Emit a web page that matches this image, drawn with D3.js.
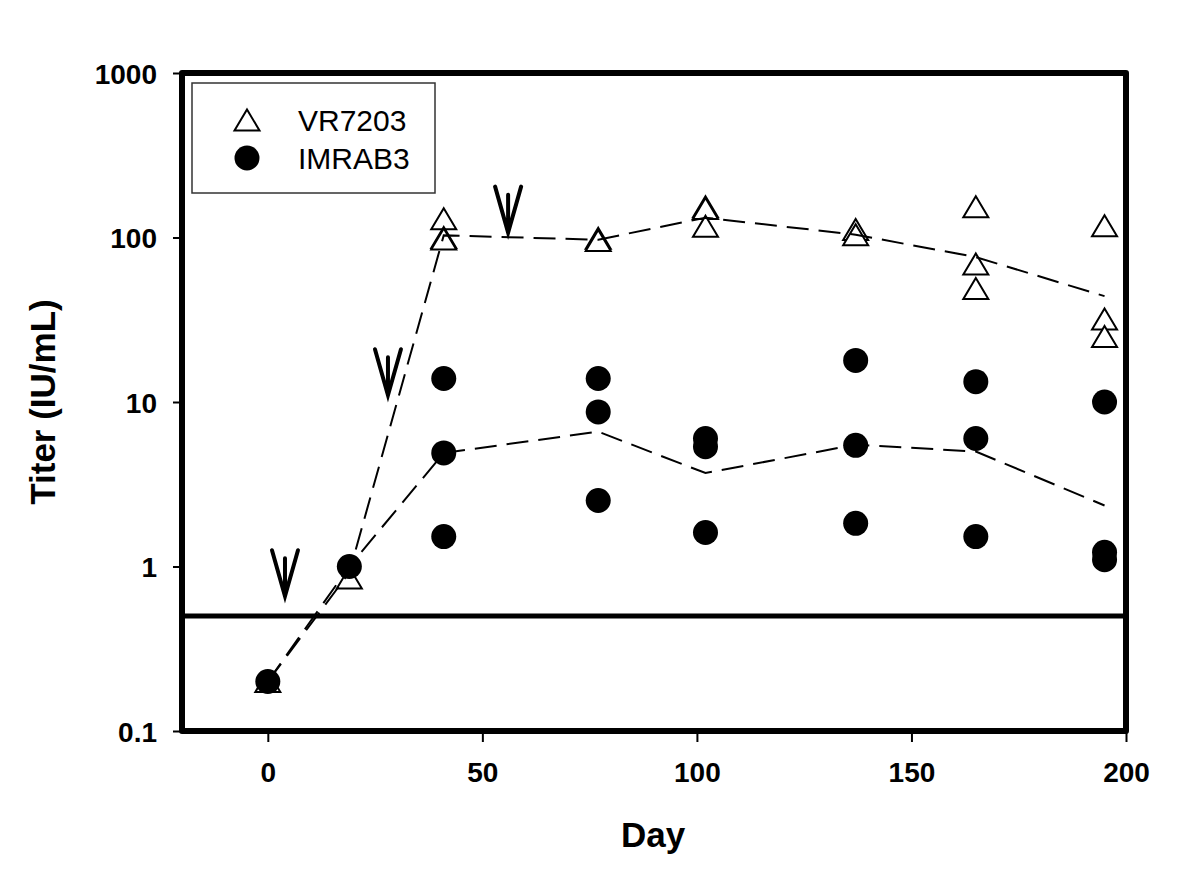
<!DOCTYPE html>
<html>
<head>
<meta charset="utf-8">
<script src="https://cdn.jsdelivr.net/npm/d3@7"></script>
<style>
  html, body { margin: 0; padding: 0; background: #fff; }
  svg { display: block; }
</style>
</head>
<body>
<svg id="chart" width="1200" height="871"></svg>
<script>
// ---- data ----
const seriesNames = ["VR7203", "IMRAB3"];
const xTicks = [0, 50, 100, 150, 200];
const yTicks = [0.1, 1, 10, 100, 1000];
const yTickLabels = ["0.1", "1", "10", "100", "1000"];

// individual titers [day, titer]
const vr7203Points = [
  [0, 0.2], [19, 0.85],
  [41, 130], [41, 100], [41, 98],
  [77, 99], [77, 96],
  [102, 154], [102, 150], [102, 117],
  [137, 112], [137, 104],
  [165, 154], [165, 69], [165, 49],
  [195, 118], [195, 32], [195, 25]
];
const imrab3Points = [
  [0, 0.2], [19, 1.0],
  [41, 13.9], [41, 4.9], [41, 1.52],
  [77, 13.9], [77, 8.7], [77, 2.52],
  [102, 6.0], [102, 5.35], [102, 1.61],
  [137, 17.9], [137, 5.45], [137, 1.83],
  [165, 13.3], [165, 6.0], [165, 1.52],
  [195, 10.0], [195, 1.22], [195, 1.1]
];

// mean (dashed) lines
const meanDays = [0, 19, 41, 77, 102, 137, 165, 195];
const vr7203Mean = [0.2, 0.92, 103, 97, 132, 104, 76, 44];
const imrab3Mean = [0.2, 1.0, 4.9, 6.6, 3.7, 5.5, 5.0, 2.35];

// vaccination arrows: tip at [day, titer]
const arrowDays = [4, 28, 56];
const arrowTips = [0.66, 11, 107];

// protective threshold
const threshold = 0.5;

// ---- chart ----
(function () {
const svg = d3.select("#chart");
const pLeft = 182, pRight = 1126, pTop = 73, pBottom = 731;

const x = d3.scaleLinear().domain([-20, 200]).range([pLeft, pRight]);
const y = d3.scaleLog().domain([0.1, 1000]).range([pBottom, pTop]);

const fontFam = "Arial, 'Liberation Sans', Helvetica, sans-serif";

// y ticks
const yAxis = d3.axisLeft(y).tickValues(yTicks).tickFormat((d, i) => yTickLabels[i]).tickSize(9).tickPadding(16);
const gy = svg.append("g").attr("transform", `translate(${pLeft},0)`).call(yAxis);
gy.select(".domain").remove();
gy.selectAll(".tick line").attr("stroke", "#000").attr("stroke-width", 2);
gy.selectAll(".tick text").attr("font-family", fontFam).attr("font-weight", "bold")
  .attr("font-size", 28).attr("fill", "#000").attr("dy", "0.36em");

// x ticks
const xAxis = d3.axisBottom(x).tickValues(xTicks).tickSize(11).tickPadding(20);
const gx = svg.append("g").attr("transform", `translate(0,${pBottom})`).call(xAxis);
gx.select(".domain").remove();
gx.selectAll(".tick line").attr("stroke", "#000").attr("stroke-width", 2);
gx.selectAll(".tick text").attr("font-family", fontFam).attr("font-weight", "bold")
  .attr("font-size", 28).attr("fill", "#000");

// frame
svg.append("rect")
  .attr("x", pLeft).attr("y", pTop).attr("width", pRight - pLeft).attr("height", pBottom - pTop)
  .attr("fill", "none").attr("stroke", "#000").attr("stroke-width", 6)
  .attr("stroke-linejoin", "round");

// threshold line
svg.append("line")
  .attr("x1", pLeft).attr("x2", pRight)
  .attr("y1", y(threshold)).attr("y2", y(threshold))
  .attr("stroke", "#000").attr("stroke-width", 5);

// markers
const triPath = (cx, cy) => `M${cx},${cy - 10.5}L${cx + 12.5},${cy + 10.5}L${cx - 12.5},${cy + 10.5}Z`;

svg.append("g").selectAll("path").data(vr7203Points).join("path")
  .attr("d", d => triPath(x(d[0]), y(d[1])))
  .attr("fill", "#fff").attr("stroke", "#000").attr("stroke-width", 2);

svg.append("g").selectAll("circle").data(imrab3Points).join("circle")
  .attr("cx", d => x(d[0])).attr("cy", d => y(d[1])).attr("r", 12.5)
  .attr("fill", "#000");

// mean lines
const line = d3.line().x((d, i) => x(meanDays[i])).y(d => y(d));
[vr7203Mean, imrab3Mean].forEach(vals => {
  svg.append("path").attr("d", line(vals))
    .attr("fill", "none").attr("stroke", "#000").attr("stroke-width", 2)
    .attr("stroke-dasharray", "22,10");
});

// arrows
arrowDays.forEach((d, i) => {
  const tx = x(d), ty = y(arrowTips[i]);
  const p = `M${tx - 13},${ty - 46}L${tx},${ty}L${tx + 13},${ty - 46}M${tx},${ty - 38}L${tx},${ty}`;
  svg.append("path").attr("d", p).attr("fill", "none").attr("stroke", "#000")
    .attr("stroke-width", 4).attr("stroke-linejoin", "miter").attr("stroke-linecap", "round");
});

// legend
const lg = svg.append("g");
lg.append("rect").attr("x", 192).attr("y", 83).attr("width", 243).attr("height", 110)
  .attr("fill", "#fff").attr("stroke", "#333").attr("stroke-width", 1.5);
lg.append("path").attr("d", triPath(247, 120)).attr("fill", "#fff").attr("stroke", "#000").attr("stroke-width", 2);
lg.append("circle").attr("cx", 247).attr("cy", 158).attr("r", 12.5).attr("fill", "#000");
lg.append("text").attr("x", 298).attr("y", 131).text(seriesNames[0])
  .attr("font-family", fontFam).attr("font-size", 30).attr("fill", "#000");
lg.append("text").attr("x", 298).attr("y", 169).text(seriesNames[1])
  .attr("font-family", fontFam).attr("font-size", 30).attr("fill", "#000");

// axis titles
svg.append("text").attr("x", 653).attr("y", 847).attr("text-anchor", "middle")
  .attr("font-family", fontFam).attr("font-weight", "bold").attr("font-size", 35).text("Day");
svg.append("text").attr("transform", "translate(55,402) rotate(-90)").attr("text-anchor", "middle")
  .attr("font-family", fontFam).attr("font-weight", "bold").attr("font-size", 35).text("Titer (IU/mL)");
})();
</script>
</body>
</html>
